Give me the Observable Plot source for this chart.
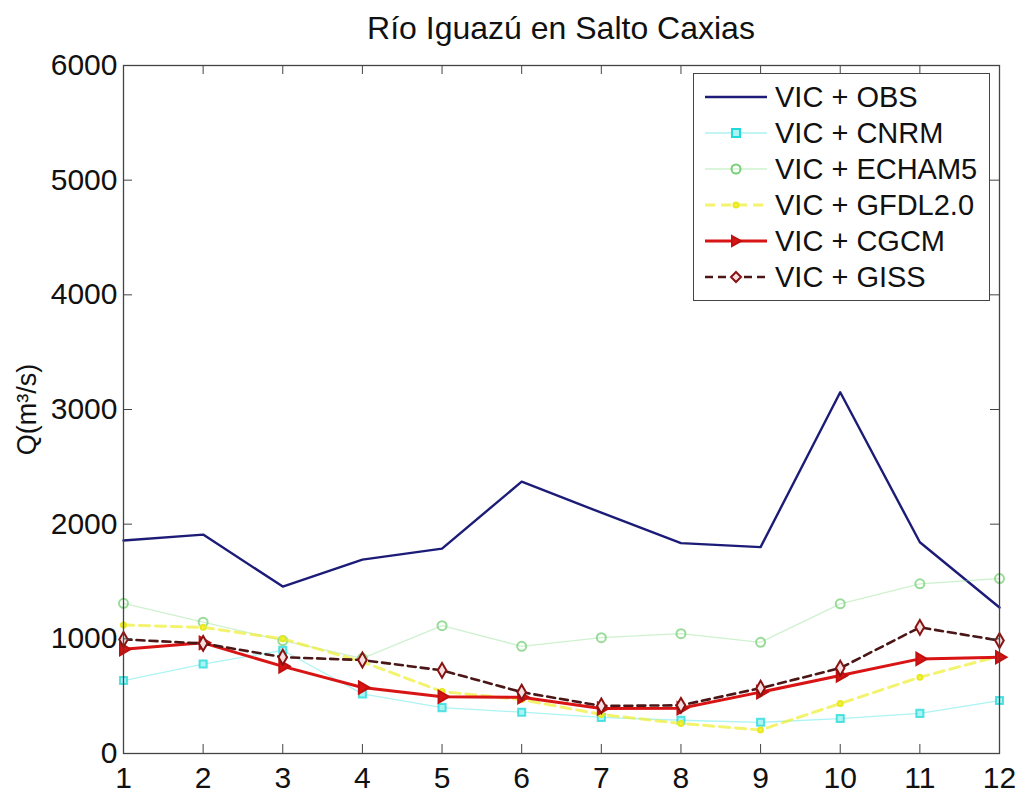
<!DOCTYPE html>
<html>
<head>
<meta charset="utf-8">
<script src="https://cdn.jsdelivr.net/npm/d3@7"></script>
<script src="https://cdn.jsdelivr.net/npm/@observablehq/plot@0.6"></script>
<style>
  html, body { margin: 0; padding: 0; background: #fff; }
  #wrap { position: relative; width: 1017px; height: 792px; font-family: "Liberation Sans", Arial, sans-serif; }
  #title { position: absolute; left: 123px; width: 876px; top: 0; height: 56px; line-height: 56px; text-align: center; font-size: 32px; color: #111; }
  #legend { position: absolute; left: 693px; top: 73px; width: 297px; height: 228px; box-sizing: border-box; border: 1px solid #444; background: #fff; padding-top: 5px; }
  .row { height: 36px; display: flex; align-items: center; font-size: 29px; color: #111; }
  .row svg { margin-left: 11px; margin-right: 8px; flex: none; }
</style>
</head>
<body>
<div id="wrap">
  <div id="chart"></div>
  <div id="title">Río Iguazú en Salto Caxias</div>
  <div id="legend"></div>
</div>
<script>
const months = [1, 2, 3, 4, 5, 6, 7, 8, 9, 10, 11, 12];
const yTicks = [0, 1000, 2000, 3000, 4000, 5000, 6000];
const seriesNames = ["VIC + OBS", "VIC + CNRM", "VIC + ECHAM5", "VIC + GFDL2.0", "VIC + CGCM", "VIC + GISS"];
const obs    = [1857, 1909, 1456, 1691, 1787, 2371, 2100, 1835, 1800, 3150, 1842, 1273];
const cnrm   = [636, 780, 900, 520, 400, 360, 315, 290, 272, 305, 350, 462];
const echam5 = [1310, 1145, 985, 830, 1115, 935, 1010, 1045, 970, 1305, 1480, 1526];
const gfdl   = [1120, 1100, 1000, 800, 540, 470, 340, 262, 205, 436, 665, 850];
const cgcm   = [910, 965, 760, 575, 495, 490, 392, 395, 535, 680, 825, 840];
const giss   = [995, 960, 840, 815, 725, 535, 415, 420, 570, 745, 1100, 985];

const styles = [
  {stroke: "#1c1c78", width: 2.4, dash: null, opacity: 1, symbol: null},
  {stroke: "#33e0e0", width: 1.3, dash: null, opacity: 0.4, symbol: "square", mstroke: "#22d8d8", mfill: "#aaf4f4", r: 4, rotate: 0},
  {stroke: "#88dd88", width: 1.3, dash: null, opacity: 0.4, symbol: "circle", mstroke: "#77d077", mfill: "none", r: 4.5, rotate: 0},
  {stroke: "#eeee30", width: 3, dash: "10,6", opacity: 0.7, symbol: "circle", mstroke: "#e8e820", mfill: "#f2f240", r: 2.5, rotate: 0},
  {stroke: "#d81414", width: 3, dash: null, opacity: 1, symbol: "triangle", mstroke: "#c01010", mfill: "#d81414", r: 4.5, rotate: 90},
  {stroke: "#4a1616", width: 2.6, dash: "8,5", opacity: 1, symbol: "diamond", mstroke: "#8a1212", mfill: "#f4e0e0", r: 4.5, rotate: 0}
];
const allValues = [obs, cnrm, echam5, gfdl, cgcm, giss];

const rows = [];
allValues.forEach((vals, i) => months.forEach((m, j) => rows.push({series: seriesNames[i], month: m, q: vals[j]})));

const W = 1017, H = 792, mL = 123, mR = 18, mT = 65, mB = 39;
const fw = W - mL - mR, fh = H - mT - mB, tk = 9;

const marks = [];
seriesNames.forEach((name, i) => {
  const s = styles[i];
  const d = rows.filter(r => r.series === name);
  marks.push(Plot.line(d, {x: "month", y: "q", stroke: s.stroke, strokeWidth: s.width, strokeDasharray: s.dash, strokeOpacity: s.opacity}));
  if (s.symbol) {
    marks.push(Plot.dot(d, {x: "month", y: "q", symbol: s.symbol, r: s.r, stroke: s.mstroke, fill: s.mfill, strokeWidth: 2, rotate: s.rotate, strokeOpacity: i < 3 ? 0.75 : 1}));
  }
});

const chart = Plot.plot({
  width: W, height: H,
  marginLeft: mL, marginRight: mR, marginTop: mT, marginBottom: mB,
  style: {fontFamily: "'Liberation Sans', Arial, sans-serif", fontSize: "30px", color: "#111", background: "#fff", overflow: "visible"},
  x: {domain: [1, 12]},
  y: {domain: [0, 6000]},
  marks: [
    ...marks,
    Plot.frame({stroke: "#444", strokeWidth: 1.3}),
    Plot.tickX(months, {x: d => d, insetTop: fh - tk, stroke: "#444"}),
    Plot.tickX(months, {x: d => d, insetBottom: fh - tk, stroke: "#444"}),
    Plot.tickY(yTicks, {y: d => d, insetRight: fw - tk, stroke: "#444"}),
    Plot.tickY(yTicks, {y: d => d, insetLeft: fw - tk, stroke: "#444"}),
    Plot.axisX(months, {tickSize: 0, tickPadding: 13, label: null, fontSize: 30, tickFormat: d => String(d)}),
    Plot.axisY(yTicks, {tickSize: 0, tickPadding: 6, label: null, fontSize: 30, tickFormat: d => String(d)}),
    Plot.text(["Q(m³/s)"], {frameAnchor: "left", textAnchor: "middle", rotate: -90, dx: -96, fontSize: 27, fill: "#111"})
  ]
});
document.getElementById("chart").appendChild(chart);

// legend
const leg = document.getElementById("legend");
const sym = {
  square: "M-4,-4h8v8h-8z",
  diamond: "M0,-5L5,0L0,5L-5,0z",
  triangle: "M-4,-5L5,0L-4,5z"
};
seriesNames.forEach((name, i) => {
  const s = styles[i];
  const row = document.createElement("div");
  row.className = "row";
  let svg = `<svg width="62" height="36"><line x1="0" x2="62" y1="18" y2="18" stroke="${s.stroke}" stroke-width="${s.width}" stroke-opacity="${s.opacity}" ${s.dash ? `stroke-dasharray="${s.dash}"` : ""}/>`;
  if (s.symbol) {
    if (s.symbol === "circle") svg += `<circle cx="31" cy="18" r="${s.r}" stroke="${s.mstroke}" fill="${s.mfill}" stroke-width="2"/>`;
    else svg += `<path transform="translate(31,18)" d="${sym[s.symbol]}" stroke="${s.mstroke}" fill="${s.mfill}" stroke-width="2"/>`;
  }
  svg += `</svg>`;
  row.innerHTML = svg + `<span>${name}</span>`;
  leg.appendChild(row);
});
</script>
</body>
</html>
